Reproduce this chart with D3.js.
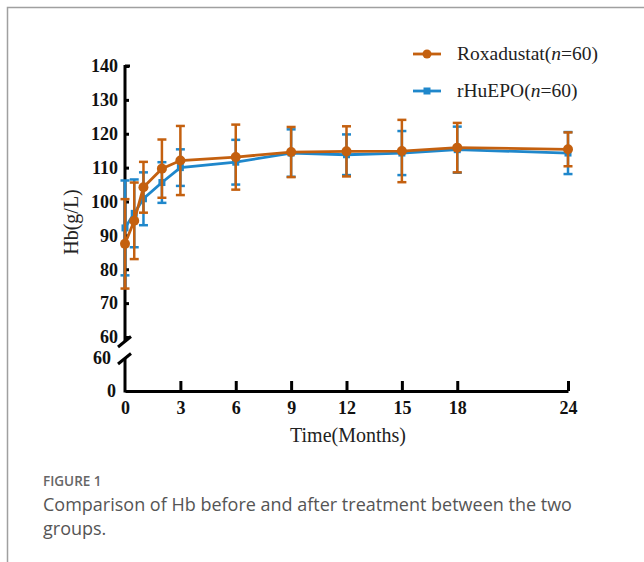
<!DOCTYPE html>
<html>
<head>
<meta charset="utf-8">
<script src="https://cdn.jsdelivr.net/npm/d3@7"></script>
<style>
  body { margin: 0; background: #fff; }
  svg { display: block; }
</style>
</head>
<body>
<div id="chart"></div>
<script>
// datos
var months = [0, 0.5, 1, 2, 3, 6, 9, 12, 15, 18, 24];
var roxaMean = [87.5, 94.3, 104.2, 109.7, 112.1, 113.1, 114.6, 114.8, 114.9, 115.9, 115.4];
var roxaSD   = [13.2, 11.3, 7.5, 8.6, 10.2, 9.6, 7.4, 7.4, 9.2, 7.3, 5.0];
var epoMean  = [92.2, 96.5, 100.8, 105.6, 110.0, 111.6, 114.3, 113.8, 114.3, 115.3, 114.3];
var epoSD    = [14.0, 10.0, 7.8, 6.0, 5.4, 6.6, 7.0, 6.0, 6.5, 6.8, 6.2];
var xTicks = [0, 3, 6, 9, 12, 15, 18, 24];
var yTicksTop = [60, 70, 80, 90, 100, 110, 120, 130, 140];
var yTicksBottom = [0, 60];
var seriesNames = ["Roxadustat", "rHuEPO"];

var width = 644, height = 562;
var orange = "#c4600f", blue = "#1f87cb";
var serif = "'Liberation Serif', 'Times New Roman', serif";

var svg = d3.select("#chart").append("svg")
  .attr("width", width)
  .attr("height", height);

// marco gris de la figura
svg.append("path")
  .attr("d", "M7.5," + height + "V7.5H" + width)
  .style("fill", "none")
  .style("stroke", "#a0a0a0")
  .style("stroke-width", 1.5);

// escalas (eje Y partido en dos tramos)
var x = d3.scaleLinear().domain([0, 24]).range([125, 568]);
var yTop = d3.scaleLinear().domain([60, 140]).range([337, 66]);
var yBot = d3.scaleLinear().domain([0, 60]).range([391, 358]);

// eje Y superior
var gYTop = svg.append("g")
  .attr("transform", "translate(" + x(0) + ",0)")
  .call(d3.axisLeft(yTop).tickValues(yTicksTop).tickSize(-4).tickSizeOuter(0).tickPadding(7));
gYTop.select(".domain").remove();

// eje Y inferior
var gYBot = svg.append("g")
  .attr("transform", "translate(" + x(0) + ",0)")
  .call(d3.axisLeft(yBot).tickValues(yTicksBottom).tickSize(0).tickPadding(9));
gYBot.select(".domain").remove();
gYBot.selectAll(".tick").filter(function(d) { return d === 60; })
  .select("text").attr("x", -14);

svg.selectAll(".tick line").style("stroke", "#000").style("stroke-width", 3);
svg.selectAll(".tick text")
  .style("font-family", serif)
  .style("font-weight", "bold")
  .style("font-size", "18px")
  .style("fill", "#111");

// líneas del eje Y con el corte
svg.append("line")
  .attr("x1", x(0)).attr("x2", x(0))
  .attr("y1", yTop(140) - 1).attr("y2", yTop(60) + 5)
  .style("stroke", "#000").style("stroke-width", 3);
svg.append("line")
  .attr("x1", x(0)).attr("x2", x(0))
  .attr("y1", yBot(60)).attr("y2", yBot(0) + 1.5)
  .style("stroke", "#000").style("stroke-width", 3);
// tope del eje
svg.append("line")
  .attr("x1", x(0)).attr("x2", x(0) + 5)
  .attr("y1", yTop(140)).attr("y2", yTop(140))
  .style("stroke", "#000").style("stroke-width", 3);
// barras diagonales del corte
[yTop(60) + 5, yBot(60) + 1].forEach(function(cy) {
  svg.append("line")
    .attr("x1", x(0) - 7).attr("y1", cy + 5)
    .attr("x2", x(0) + 6).attr("y2", cy - 5.5)
    .style("stroke", "#000").style("stroke-width", 3);
});

// eje X
var gX = svg.append("g")
  .attr("transform", "translate(0," + yBot(0) + ")")
  .call(d3.axisBottom(x).tickValues(xTicks).tickSize(-10).tickSizeOuter(0).tickPadding(10));
gX.select(".domain").style("stroke", "#000").style("stroke-width", 3);
gX.selectAll(".tick line").style("stroke", "#000").style("stroke-width", 3);
gX.selectAll(".tick").filter(function(d) { return d === 0; }).select("line").remove();
gX.selectAll(".tick text")
  .style("font-family", serif)
  .style("font-weight", "bold")
  .style("font-size", "18px")
  .style("fill", "#111");

// títulos de ejes
svg.append("text")
  .attr("transform", "translate(78,222) rotate(-90)")
  .attr("text-anchor", "middle")
  .style("font-family", serif)
  .style("font-size", "20px")
  .style("fill", "#222")
  .text("Hb(g/L)");

svg.append("text")
  .attr("x", 348).attr("y", 442)
  .attr("text-anchor", "middle")
  .style("font-family", serif)
  .style("font-size", "20px")
  .style("fill", "#222")
  .text("Time(Months)");

// series
var series = [
  { name: seriesNames[1], mean: epoMean, sd: epoSD, color: blue, marker: "square" },
  { name: seriesNames[0], mean: roxaMean, sd: roxaSD, color: orange, marker: "circle" }
];

var line = d3.line()
  .x(function(d) { return x(d.t); })
  .y(function(d) { return yTop(d.m); });

series.forEach(function(s) {
  var pts = months.map(function(t, i) { return { t: t, m: s.mean[i], sd: s.sd[i] }; });
  var g = svg.append("g");

  // barras de error
  var eb = g.selectAll("g.err").data(pts).enter().append("g").attr("class", "err");
  eb.append("line")
    .attr("x1", function(d) { return x(d.t); })
    .attr("x2", function(d) { return x(d.t); })
    .attr("y1", function(d) { return yTop(d.m + d.sd); })
    .attr("y2", function(d) { return yTop(d.m - d.sd); });
  eb.append("line")
    .attr("x1", function(d) { return x(d.t) - 4.5; })
    .attr("x2", function(d) { return x(d.t) + 4.5; })
    .attr("y1", function(d) { return yTop(d.m + d.sd); })
    .attr("y2", function(d) { return yTop(d.m + d.sd); });
  eb.append("line")
    .attr("x1", function(d) { return x(d.t) - 4.5; })
    .attr("x2", function(d) { return x(d.t) + 4.5; })
    .attr("y1", function(d) { return yTop(d.m - d.sd); })
    .attr("y2", function(d) { return yTop(d.m - d.sd); });
  eb.selectAll("line").style("stroke", s.color).style("stroke-width", 2.5);

  g.append("path")
    .datum(pts)
    .attr("d", line)
    .style("fill", "none")
    .style("stroke", s.color)
    .style("stroke-width", 2.8);

  if (s.marker === "circle") {
    g.selectAll("circle").data(pts).enter().append("circle")
      .attr("cx", function(d) { return x(d.t); })
      .attr("cy", function(d) { return yTop(d.m); })
      .attr("r", 5)
      .style("fill", s.color);
  } else {
    g.selectAll("rect").data(pts).enter().append("rect")
      .attr("x", function(d) { return x(d.t) - 3.5; })
      .attr("y", function(d) { return yTop(d.m) - 3.5; })
      .attr("width", 7).attr("height", 7)
      .style("fill", s.color);
  }
});

// leyenda
var legendItems = [
  { name: seriesNames[0], color: orange, marker: "circle", y: 54 },
  { name: seriesNames[1], color: blue, marker: "square", y: 91 }
];
var lg = svg.selectAll("g.legend").data(legendItems).enter().append("g").attr("class", "legend");
lg.append("line")
  .attr("x1", 413).attr("x2", 441)
  .attr("y1", function(d) { return d.y; }).attr("y2", function(d) { return d.y; })
  .style("stroke", function(d) { return d.color; })
  .style("stroke-width", 2.8);
lg.each(function(d) {
  var el = d3.select(this);
  if (d.marker === "circle") {
    el.append("circle").attr("cx", 427).attr("cy", d.y).attr("r", 4.5).style("fill", d.color);
  } else {
    el.append("rect").attr("x", 423.5).attr("y", d.y - 3.5).attr("width", 7).attr("height", 7).style("fill", d.color);
  }
  var t = el.append("text")
    .attr("x", 457).attr("y", d.y + 6)
    .style("font-family", serif)
    .style("font-size", "19.5px")
    .style("fill", "#222");
  t.append("tspan").text(d.name + "(");
  t.append("tspan").style("font-style", "italic").text("n");
  t.append("tspan").text("=60)");
});

// pie de figura
svg.append("text")
  .attr("x", 43).attr("y", 486)
  .style("font-family", "'Open Sans', sans-serif")
  .style("font-size", "13.5px")
  .style("font-weight", "600")
  .style("fill", "#666")
  .text("FIGURE 1");
svg.append("text")
  .attr("x", 43).attr("y", 511)
  .style("font-family", "'Open Sans', sans-serif")
  .style("font-size", "18px")
  .style("fill", "#555")
  .text("Comparison of Hb before and after treatment between the two");
svg.append("text")
  .attr("x", 43).attr("y", 535)
  .style("font-family", "'Open Sans', sans-serif")
  .style("font-size", "18px")
  .style("fill", "#555")
  .text("groups.");
</script>
</body>
</html>
